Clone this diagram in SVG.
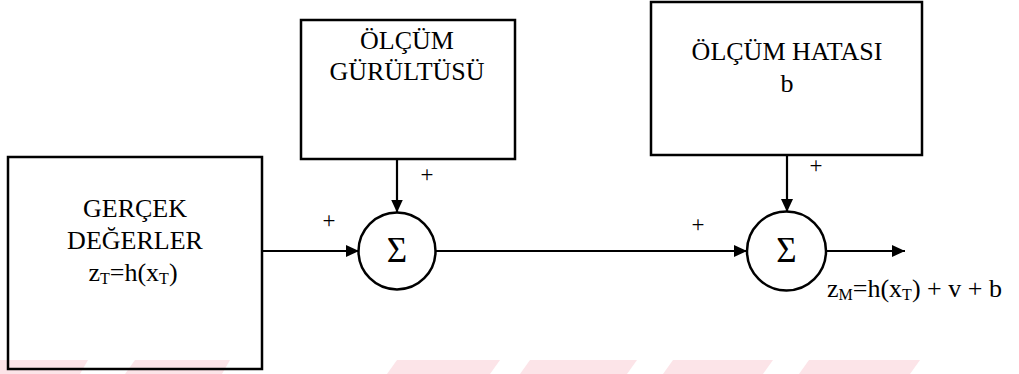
<svg xmlns="http://www.w3.org/2000/svg" width="1019" height="374" viewBox="0 0 1019 374">
<style>
.box{fill:none;stroke:#000;stroke-width:2.5}
.sum{fill:#fff;stroke:#000;stroke-width:2.5}
.t{font-family:"Liberation Serif","Times New Roman",serif;font-size:26px;fill:#000;text-anchor:middle}
.s{font-family:"Liberation Serif","Times New Roman",serif;font-size:35px;fill:#000;text-anchor:middle}
.p{font-family:"Liberation Serif","Times New Roman",serif;font-size:23px;fill:#000;text-anchor:middle}
.ln{fill:none;stroke:#000;stroke-width:2.2}
.wm{fill:#fce4e8}
</style>
<defs>
<marker id="ah" markerUnits="userSpaceOnUse" markerWidth="14" markerHeight="12" refX="13" refY="6" orient="auto">
<path d="M0,0 L13,6 L0,12 Z" fill="#000"/>
</marker>
</defs>
<g id="watermark">
<polygon class="wm" points="0,374 0,360 88,360 80,374"/>
<polygon class="wm" points="125,374 135,360 230,360 222,374"/>
<polygon class="wm" points="387,374 397,360 500,360 490,374"/>
<polygon class="wm" points="520,374 530,360 637,360 627,374"/>
<polygon class="wm" points="663,374 673,360 773,360 763,374"/>
<polygon class="wm" points="799,374 809,360 920,360 910,374"/>
</g>
<g id="connectors">
<line class="ln" x1="262" y1="251" x2="359" y2="251" marker-end="url(#ah)"/>
<line class="ln" x1="397" y1="159" x2="397" y2="212.5" marker-end="url(#ah)"/>
<line class="ln" x1="436" y1="251" x2="747" y2="251" marker-end="url(#ah)"/>
<line class="ln" x1="787" y1="155" x2="787" y2="212" marker-end="url(#ah)"/>
<line class="ln" x1="826" y1="251" x2="905" y2="251" marker-end="url(#ah)"/>
<text class="p" x="329" y="228">+</text>
<text class="p" x="427" y="182">+</text>
<text class="p" x="698" y="232">+</text>
<text class="p" x="816" y="173">+</text>
</g>
<g id="gercek">
<rect class="box" x="8" y="157" width="254" height="212"/>
<text class="t" x="135" y="217">GERÇEK</text>
<text class="t" x="135" y="249">DEĞERLER</text>
<text class="t" x="133" y="281">z<tspan font-size="16" dy="3">T</tspan><tspan dy="-3">=h(x</tspan><tspan font-size="16" dy="3">T</tspan><tspan dy="-3">)</tspan></text>
</g>
<g id="gurultu">
<rect class="box" x="301" y="20" width="214" height="139"/>
<text class="t" x="407" y="49">ÖLÇÜM</text>
<text class="t" x="407" y="80">GÜRÜLTÜSÜ</text>
</g>
<g id="hata">
<rect class="box" x="651" y="2" width="271" height="153"/>
<text class="t" x="787" y="60">ÖLÇÜM HATASI</text>
<text class="t" x="787" y="92">b</text>
</g>
<g id="sum1">
<circle class="sum" cx="397" cy="251" r="38.5"/>
<text class="s" x="397" y="262">Σ</text>
</g>
<g id="sum2">
<circle class="sum" cx="786.5" cy="251" r="39.5"/>
<text class="s" x="786.5" y="262">Σ</text>
</g>
<g id="output">
<text class="t" x="827" y="297" style="text-anchor:start">z<tspan font-size="16" dy="3">M</tspan><tspan dy="-3">=h(x</tspan><tspan font-size="16" dy="3">T</tspan><tspan dy="-3">) + v + b</tspan></text>
</g>
</svg>
